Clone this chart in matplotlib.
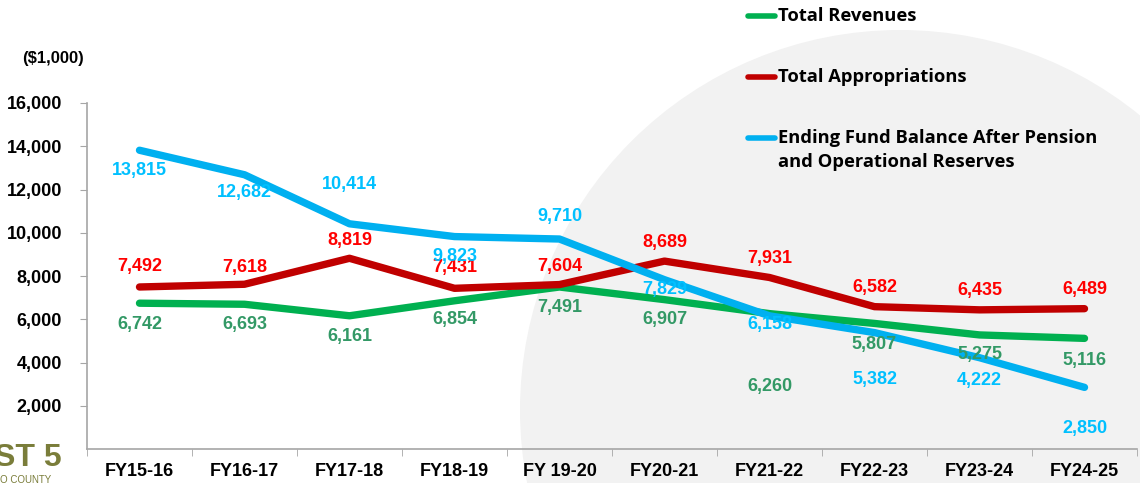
import matplotlib.pyplot as plt
from matplotlib.patches import Ellipse
from matplotlib.ticker import FuncFormatter

# Données (en milliers de dollars)
years = ['FY15-16', 'FY16-17', 'FY17-18', 'FY18-19', 'FY 19-20',
         'FY20-21', 'FY21-22', 'FY22-23', 'FY23-24', 'FY24-25']
revenues = [6742, 6693, 6161, 6854, 7491, 6907, 6260, 5807, 5275, 5116]
appropriations = [7492, 7618, 8819, 7431, 7604, 8689, 7931, 6582, 6435, 6489]
fund_balance = [13815, 12682, 10414, 9823, 9710, 7829, 6158, 5382, 4222, 2850]

# décalages verticaux des étiquettes (pixels)
rev_off = [-21, -20, -21, -19, -20, -20, -73, -21, -20, -22]
app_off = [20, 17, 18, 21, 18, 19, 19, 19, 19, 19]
bal_off = [-20, -18, 39, -20, 23, -10, -9, -47, -23, -41]

plt.rcParams['font.family'] = ['Liberation Sans', 'DejaVu Sans']

fig = plt.figure(figsize=(11.4, 4.83), dpi=100)
# grand disque gris en arrière-plan
fig.patches.append(Ellipse((900 / 1140, 1 - 410 / 483), 760 / 1140, 760 / 483,
                           transform=fig.transFigure, facecolor='#F2F2F2',
                           edgecolor='none', zorder=-5))

ax = fig.add_axes([87 / 1140, 34 / 483, 1050 / 1140, 346 / 483])
ax.set_facecolor('none')
ax.set_zorder(2)

x = list(range(len(years)))
ax.plot(x, revenues, color='#00B050', lw=5.3, solid_capstyle='round', zorder=3)
ax.plot(x, appropriations, color='#C00000', lw=5.3, solid_capstyle='round', zorder=3)
ax.plot(x, fund_balance, color='#00B0F0', lw=5.3, solid_capstyle='round', zorder=4)

for series, offs, col in [(revenues, rev_off, '#339966'),
                          (appropriations, app_off, '#FF0000'),
                          (fund_balance, bal_off, '#00C0FF')]:
    for i, v in enumerate(series):
        ax.annotate(f'{v:,}', (i, v), xytext=(0, offs[i]), textcoords='offset pixels',
                    ha='center', va='center', color=col, fontsize=13,
                    fontweight='bold', zorder=5)

ax.set_xlim(-0.5, len(years) - 0.5)
ax.set_ylim(0, 16000)
ax.set_yticks(range(2000, 16001, 2000))
ax.yaxis.set_major_formatter(FuncFormatter(lambda v, p: f'{int(v):,}'))
ax.set_xticks(x)
ax.set_xticklabels(years)
ax.set_xticks([i + 0.5 for i in range(-1, len(years))], minor=True)
ax.tick_params(axis='x', which='major', length=0, pad=10)
ax.tick_params(axis='x', which='minor', length=5, color='#A6A6A6', direction='out')
ax.tick_params(axis='y', length=5, color='#A6A6A6', pad=13)
for lbl in ax.get_xticklabels() + ax.get_yticklabels():
    lbl.set_fontsize(13)
    lbl.set_fontweight('bold')
for s in ['top', 'right']:
    ax.spines[s].set_visible(False)
for s in ['left', 'bottom']:
    ax.spines[s].set_color('#A6A6A6')
    ax.spines[s].set_linewidth(1.2)

fig.text(22 / 1140, 1 - 58 / 483, '($1,000)', fontsize=12, fontweight='bold', va='center')

# légende manuelle
leg = [('Total Revenues', '#00B050', 16),
       ('Total Appropriations', '#C00000', 77),
       ('Ending Fund Balance After Pension\nand Operational Reserves', '#00B0F0', 138)]
for txt, col, yp in leg:
    yf = 1 - yp / 483
    fig.lines.append(plt.Line2D([748 / 1140, 775 / 1140], [yf, yf], color=col, lw=4,
                                solid_capstyle='round', transform=fig.transFigure))
    fig.text(778 / 1140, yf + 9 / 483, txt, fontsize=13.2, fontweight='bold',
             family=['Open Sans', 'DejaVu Sans'], va='top', linespacing=1.42)

# logo partiel en bas à gauche
fig.text(-6 / 1140, 1 - 458 / 483, 'ST 5', fontsize=23, fontweight='bold',
         color='#7A7D3A', va='center')
fig.text(0, 1 - 480 / 483, 'O COUNTY', fontsize=7, color='#7A7D3A', va='center')

fig.savefig('out.png', dpi=100)
plt.close(fig)
